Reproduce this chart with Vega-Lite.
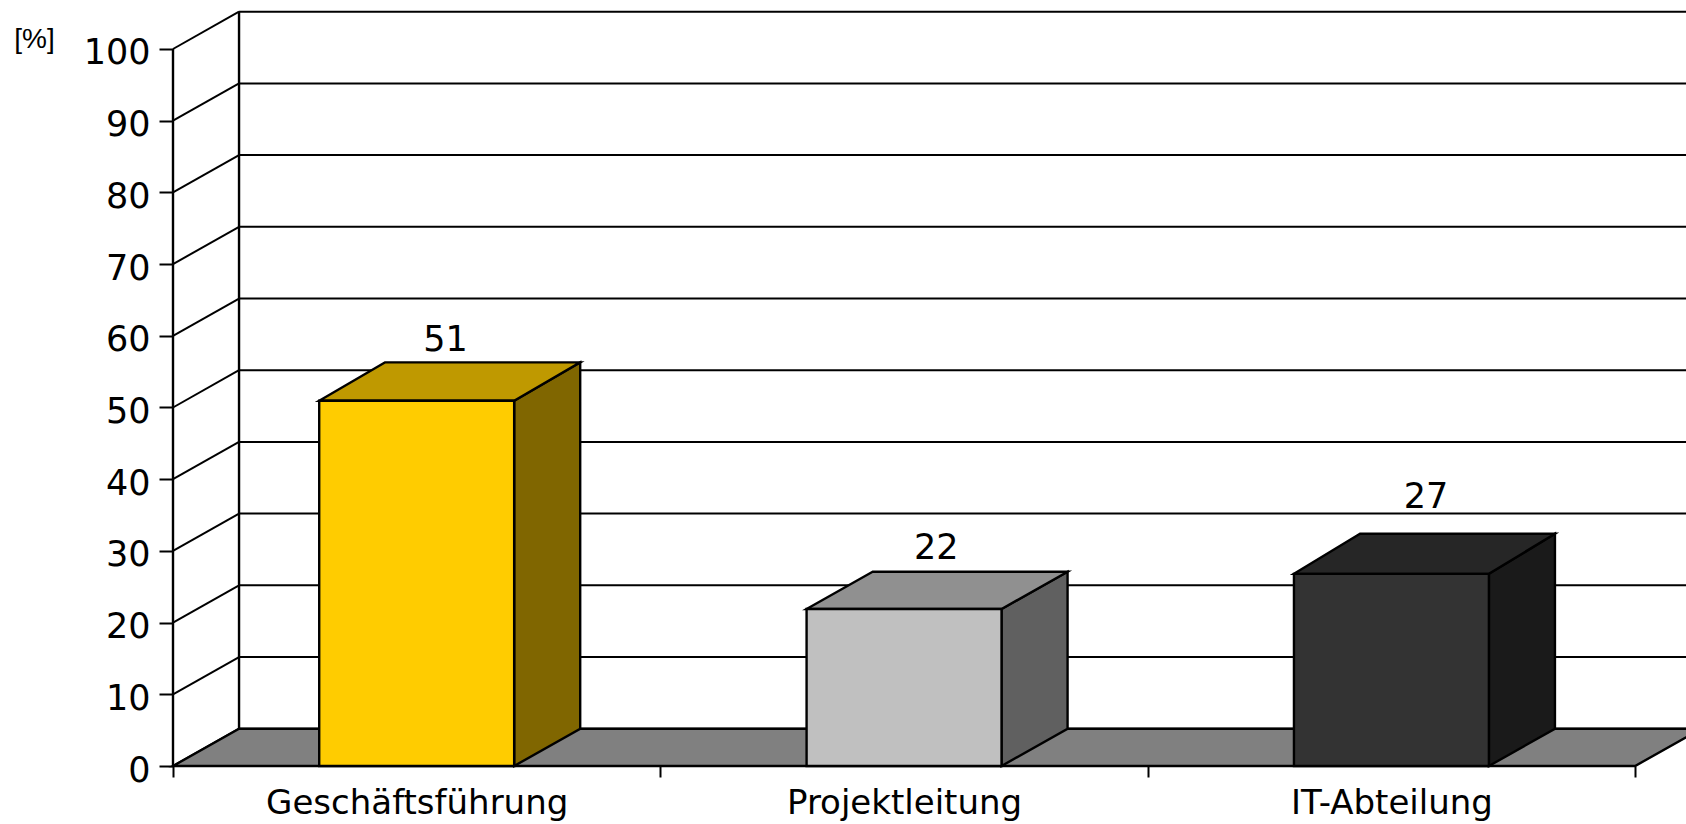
{
"$schema":"https://vega.github.io/schema/vega-lite/v6.json",
"width":1513,"height":754,
"autosize":{"type":"none"},
"padding":{"left":173,"top":12,"right":0,"bottom":58},
"background":"white",
"datasets":{
"grid":[{"pct":0,"backPct":5.2,"front":0,"back":0.1355,"far":3.1355},{"pct":10,"backPct":15.2,"front":0,"back":0.1355,"far":3.1355},{"pct":20,"backPct":25.2,"front":0,"back":0.1355,"far":3.1355},{"pct":30,"backPct":35.2,"front":0,"back":0.1355,"far":3.1355},{"pct":40,"backPct":45.2,"front":0,"back":0.1355,"far":3.1355},{"pct":50,"backPct":55.2,"front":0,"back":0.1355,"far":3.1355},{"pct":60,"backPct":65.2,"front":0,"back":0.1355,"far":3.1355},{"pct":70,"backPct":75.2,"front":0,"back":0.1355,"far":3.1355},{"pct":80,"backPct":85.2,"front":0,"back":0.1355,"far":3.1355},{"pct":90,"backPct":95.2,"front":0,"back":0.1355,"far":3.1355},{"pct":100,"backPct":105.2,"front":0,"back":0.1355,"far":3.1355}],
"edges":[{"at":0,"from":0,"to":100},{"at":0.1355,"from":5.2,"to":105.2}],
"floor":[{"level":0,"from":0,"to":3},{"level":5.2,"from":0.1355,"to":3.1355}],
"bars":[{"category":"Geschäftsführung","value":51,"base":0,"height":50.95,"start":0.3,"end":0.7,"labelAt":0.559,"labelLevel":56.6},{"category":"Projektleitung","value":22,"base":0,"height":21.9,"start":1.3,"end":1.7,"labelAt":1.566,"labelLevel":27.6},{"category":"IT-Abteilung","value":27,"base":0,"height":26.8,"start":2.3,"end":2.7,"labelAt":2.571,"labelLevel":34.7}],
"sides":[{"category":"Geschäftsführung","pos":0.7,"low":0,"high":50.95},{"category":"Geschäftsführung","pos":0.8355,"low":5.2,"high":56.3},{"category":"Projektleitung","pos":1.7,"low":0,"high":21.9},{"category":"Projektleitung","pos":1.8355,"low":5.2,"high":27.1},{"category":"IT-Abteilung","pos":2.7,"low":0,"high":26.8},{"category":"IT-Abteilung","pos":2.8355,"low":5.2,"high":32.4}],
"tops":[{"category":"Geschäftsführung","level":50.95,"from":0.3,"to":0.7},{"category":"Geschäftsführung","level":56.3,"from":0.4355,"to":0.8355},{"category":"Projektleitung","level":21.9,"from":1.3,"to":1.7},{"category":"Projektleitung","level":27.1,"from":1.4355,"to":1.8355},{"category":"IT-Abteilung","level":26.8,"from":2.3,"to":2.7},{"category":"IT-Abteilung","level":32.4,"from":2.4355,"to":2.8355}]
},
"config":{"view":{"stroke":null},"font":"DejaVu Sans"},
"layer":[
{"data":{"name":"grid"},"mark":{"type":"rule","stroke":"#000","strokeWidth":2},
 "encoding":{
  "x":{"field":"front","type":"quantitative","scale":{"domain":[0,3.1044],"nice":false,"zero":false},
   "axis":{"title":null,"grid":false,"domain":false,"values":[0,0.5,1,1.5,2,2.5,3],
    "labelExpr":"datum.value==0.5?'Geschäftsführung':datum.value==1.5?'Projektleitung':datum.value==2.5?'IT-Abteilung':''",
    "labelFont":"DejaVu Sans","labelFontSize":34,"labelColor":"#000","labelPadding":9,"labelLimit":600,"labelOverlap":false,"labelFlush":false,"labelBound":false,
    "tickSize":11,"tickWidth":2,"tickColor":"#000","tickOpacity":{"condition":{"test":"datum.value%1==0","value":1},"value":0}}},
  "x2":{"field":"back"},
  "y":{"field":"pct","type":"quantitative","scale":{"domain":[0,105.16],"nice":false,"zero":false},
   "axis":{"title":"[%]","titleAngle":0,"titleX":-139,"titleY":27,"titleAlign":"center","titleBaseline":"middle","titleFont":"Liberation Sans","titleFontSize":28,"titleFontWeight":"normal","titleColor":"#000",
    "grid":false,"domain":false,"values":[0,10,20,30,40,50,60,70,80,90,100],
    "labelFont":"DejaVu Sans","labelFontSize":35,"labelColor":"#000","labelPadding":9,"labelOffset":4,"labelOverlap":false,"labelFlush":false,"labelBound":false,
    "tickSize":14,"tickWidth":2,"tickColor":"#000"}},
  "y2":{"field":"backPct"}}},
{"data":{"name":"grid"},"mark":{"type":"rule","stroke":"#000","strokeWidth":2},
 "encoding":{"x":{"field":"back","type":"quantitative"},"x2":{"field":"far"},"y":{"field":"backPct","type":"quantitative"}}},
{"data":{"name":"edges"},"mark":{"type":"rule","stroke":"#000","strokeWidth":2.4},
 "encoding":{"x":{"field":"at","type":"quantitative"},"y":{"field":"from","type":"quantitative"},"y2":{"field":"to"}}},
{"data":{"name":"floor"},"mark":{"type":"area","orient":"horizontal","fill":"#808080","stroke":"#000","strokeWidth":2.4},
 "encoding":{"y":{"field":"level","type":"quantitative"},"x":{"field":"from","type":"quantitative"},"x2":{"field":"to"}}},
{"data":{"name":"sides"},"mark":{"type":"area","orient":"vertical","stroke":"#000","strokeWidth":2.4},
 "encoding":{"x":{"field":"pos","type":"quantitative"},"y":{"field":"low","type":"quantitative"},"y2":{"field":"high"},
  "fill":{"field":"category","type":"nominal","legend":null,"scale":{"domain":["Geschäftsführung","Projektleitung","IT-Abteilung"],"range":["#806600","#606060","#1A1A1A"]}}}},
{"data":{"name":"tops"},"mark":{"type":"area","orient":"horizontal","stroke":"#000","strokeWidth":2.4},
 "encoding":{"y":{"field":"level","type":"quantitative"},"x":{"field":"from","type":"quantitative"},"x2":{"field":"to"},
  "fill":{"field":"category","type":"nominal","legend":null,"scale":{"domain":["Geschäftsführung","Projektleitung","IT-Abteilung"],"range":["#BF9900","#909090","#262626"]}}}},
{"data":{"name":"bars"},"mark":{"type":"rect","stroke":"#000","strokeWidth":2.4},
 "encoding":{"x":{"field":"start","type":"quantitative"},"x2":{"field":"end"},"y":{"field":"base","type":"quantitative"},"y2":{"field":"height"},
  "fill":{"field":"category","type":"nominal","legend":null,"scale":{"domain":["Geschäftsführung","Projektleitung","IT-Abteilung"],"range":["#FFCC00","#C0C0C0","#333333"]}}}},
{"data":{"name":"bars"},"mark":{"type":"text","font":"DejaVu Sans","fontSize":35,"color":"#000","baseline":"alphabetic","dy":-9},
 "encoding":{"x":{"field":"labelAt","type":"quantitative"},"y":{"field":"labelLevel","type":"quantitative"},"text":{"field":"value","type":"quantitative"}}}
],
"resolve":{"scale":{"fill":"independent"}}
}
